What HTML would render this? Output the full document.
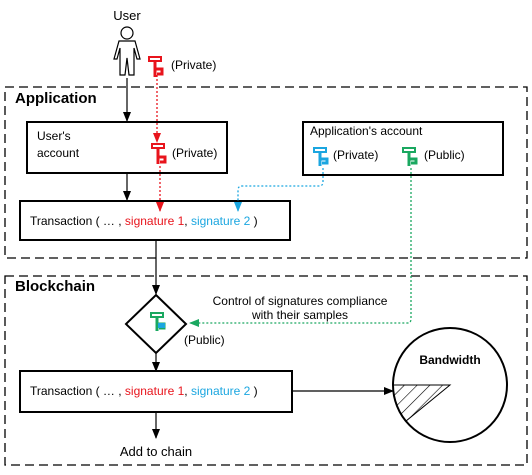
<!DOCTYPE html>
<html><head><style>body{margin:0;background:#fff}svg{display:block;font-family:"Liberation Sans",Arial,sans-serif}</style></head><body>
<svg width="532" height="475" viewBox="0 0 532 475">
<defs>
<marker id="a" markerWidth="10" markerHeight="10" refX="9" refY="5" orient="auto" markerUnits="userSpaceOnUse"><path d="M0,1 L10,5 L0,9 z" fill="#000"/></marker>
<marker id="r" markerWidth="10" markerHeight="10" refX="9" refY="5" orient="auto" markerUnits="userSpaceOnUse"><path d="M0,1 L10,5 L0,9 z" fill="#e8141c"/></marker>
<marker id="b" markerWidth="10" markerHeight="10" refX="9" refY="5" orient="auto" markerUnits="userSpaceOnUse"><path d="M0,1 L10,5 L0,9 z" fill="#1ba6e0"/></marker>
<marker id="g" markerWidth="10" markerHeight="10" refX="9" refY="5" orient="auto" markerUnits="userSpaceOnUse"><path d="M0,1 L10,5 L0,9 z" fill="#1aa860"/></marker>
<pattern id="h" width="9" height="9" patternUnits="userSpaceOnUse" patternTransform="rotate(45)"><line x1="0" y1="0" x2="0" y2="9" stroke="#000" stroke-width="1.2"/></pattern>
</defs>
<rect x="5" y="87" width="522" height="171" fill="none" stroke="#000" stroke-width="1.3" stroke-dasharray="9,5"/>
<rect x="5" y="276" width="522" height="189" fill="none" stroke="#000" stroke-width="1.3" stroke-dasharray="9,5"/>
<text x="15" y="103" font-size="15" font-weight="bold">Application</text>
<text x="15" y="291" font-size="15" font-weight="bold">Blockchain</text>
<text x="127" y="20" font-size="13" text-anchor="middle">User</text>
<g fill="#fff" stroke="#000" stroke-width="1.2">
<circle cx="127" cy="33" r="6"/>
<path d="M119,41 H135 L140,59 H137 L134,48 V75 H129 L127,58 L125,75 H120 V48 L117,59 H114 Z"/>
</g>
<g stroke="#e8141c"><g transform="translate(155,63)"><rect x="-6" y="-6" width="12" height="4" fill="none" stroke-width="2"/><path d="M0,-2 V14 M1,6 H7 V11 H2" fill="none" stroke-width="3"/></g></g>
<text x="171" y="69" font-size="12">(Private)</text>
<line x1="127" y1="78" x2="127" y2="121" stroke="#000" stroke-width="1.2" marker-end="url(#a)"/>
<rect x="27" y="122" width="200" height="51" fill="#fff" stroke="#000" stroke-width="2"/>
<text x="37" y="140" font-size="12">User's</text>
<text x="37" y="157" font-size="12">account</text>
<line x1="157" y1="75" x2="157" y2="142" stroke="#e8141c" stroke-width="1.3" stroke-dasharray="2,2" marker-end="url(#r)"/>
<g stroke="#e8141c"><g transform="translate(158,150)"><rect x="-6" y="-6" width="12" height="4" fill="none" stroke-width="2"/><path d="M0,-2 V14 M1,7 H7 V12 H2" fill="none" stroke-width="3"/></g></g>
<text x="172" y="157" font-size="12">(Private)</text>
<line x1="127" y1="173" x2="127" y2="200" stroke="#000" stroke-width="1.2" marker-end="url(#a)"/>
<rect x="20" y="201" width="270" height="39" fill="#fff" stroke="#000" stroke-width="2"/>
<text x="30" y="225" font-size="12">Transaction ( … , <tspan fill="#e8141c">signature 1</tspan>, <tspan fill="#1ba6e0">signature 2</tspan> )</text>
<line x1="160" y1="166" x2="160" y2="211" stroke="#e8141c" stroke-width="1.3" stroke-dasharray="2,2" marker-end="url(#r)"/>
<rect x="303" y="122" width="200" height="53" fill="#fff" stroke="#000" stroke-width="2"/>
<text x="310" y="135" font-size="12">Application's account</text>
<g stroke="#1ba6e0"><g transform="translate(320,153)"><rect x="-6" y="-5" width="12" height="4" fill="none" stroke-width="2"/><path d="M0,-1 V13 M1,6 H7 V10 H2" fill="none" stroke-width="3"/></g></g>
<text x="333" y="159" font-size="12">(Private)</text>
<g stroke="#1aa860"><g transform="translate(409,153)"><rect x="-6" y="-5" width="12" height="4" fill="none" stroke-width="2"/><path d="M0,-1 V13 M1,6 H7 V10 H2" fill="none" stroke-width="3"/></g></g>
<text x="424" y="159" font-size="12">(Public)</text>
<path d="M323,168 V182 Q323,186 319,186 H242 Q238,186 238,190 V211" fill="none" stroke="#1ba6e0" stroke-width="1.3" stroke-dasharray="2,2" marker-end="url(#b)"/>
<path d="M411,168 V319 Q411,323 407,323 H190" fill="none" stroke="#1aa860" stroke-width="1.3" stroke-dasharray="2,2" marker-end="url(#g)"/>
<line x1="156" y1="240" x2="156" y2="294" stroke="#000" stroke-width="1.2" marker-end="url(#a)"/>
<path d="M156,295 L186,324 L156,353 L126,324 Z" fill="#fff" stroke="#000" stroke-width="2"/>
<g stroke="#1aa860"><g transform="translate(157,318)"><rect x="-6" y="-5" width="12" height="4" fill="none" stroke-width="2"/><path d="M0,-1 V13 M1,6 H7 V10 H2" fill="none" stroke-width="3"/></g></g>
<rect x="158" y="323" width="7" height="5" fill="#1ba6e0"/>
<text x="184" y="344" font-size="12">(Public)</text>
<text x="300" y="305" font-size="12" text-anchor="middle">Control of signatures compliance</text>
<text x="300" y="319" font-size="12" text-anchor="middle">with their samples</text>
<line x1="156" y1="353" x2="156" y2="371" stroke="#000" stroke-width="1.2" marker-end="url(#a)"/>
<rect x="20" y="371" width="272" height="41" fill="#fff" stroke="#000" stroke-width="2"/>
<text x="30" y="395" font-size="12">Transaction ( … , <tspan fill="#e8141c">signature 1</tspan>, <tspan fill="#1ba6e0">signature 2</tspan> )</text>
<line x1="292" y1="391" x2="393" y2="391" stroke="#000" stroke-width="1.2" marker-end="url(#a)"/>
<circle cx="450" cy="385" r="57" fill="#fff" stroke="#000" stroke-width="2"/>
<path d="M450,385 H393 A57,57 0 0 0 406,421 Z" fill="url(#h)" stroke="#000" stroke-width="1"/>
<text x="450" y="364" font-size="12" font-weight="bold" text-anchor="middle">Bandwidth</text>
<line x1="156" y1="412" x2="156" y2="438" stroke="#000" stroke-width="1.2" marker-end="url(#a)"/>
<text x="156" y="456" font-size="13" text-anchor="middle">Add to chain</text>
</svg>
</body></html>
